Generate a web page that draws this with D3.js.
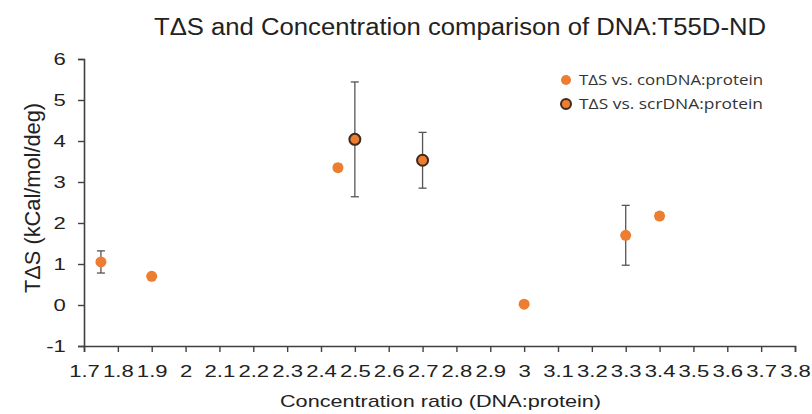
<!DOCTYPE html>
<html>
<head>
<meta charset="utf-8">
<script src="https://cdn.jsdelivr.net/npm/d3@7"></script>
<style>
  body { margin: 0; background: #fff; }
  svg { display: block; }
</style>
</head>
<body>
<div id="chart"></div>
<script>
// values
const conRatio = [1.75, 1.9, 2.45, 3.0, 3.3, 3.4];
const conTdS = [1.05, 0.7, 3.35, 0.02, 1.7, 2.17];
const conErr = [0.27, 0.05, 0.08, 0.0, 0.73, 0.08];

const scrRatio = [2.5, 2.7];
const scrTdS = [4.04, 3.53];
const scrErr = [1.4, 0.68];

const xTicks = [1.7, 1.8, 1.9, 2, 2.1, 2.2, 2.3, 2.4, 2.5, 2.6, 2.7, 2.8, 2.9, 3,
  3.1, 3.2, 3.3, 3.4, 3.5, 3.6, 3.7, 3.8];
const yTicks = [-1, 0, 1, 2, 3, 4, 5, 6];

const seriesNames = ['T\u0394S vs. conDNA:protein', 'T\u0394S vs. scrDNA:protein'];

const width = 812;
const height = 414;
const margin = { top: 59, right: 17, bottom: 68, left: 84 };

const svg = d3.select('#chart').append('svg')
  .attr('width', width)
  .attr('height', height)
  .style('font-family', 'Liberation Sans, Arial, sans-serif');

const x = d3.scaleLinear()
  .domain([1.7, 3.8])
  .range([margin.left, width - margin.right]);

const y = d3.scaleLinear()
  .domain([-1, 6])
  .range([height - margin.bottom, margin.top]);

const axisColor = '#404040';

// y axis
const yAxis = svg.append('g')
  .attr('transform', `translate(${margin.left},0)`)
  .call(d3.axisLeft(y).tickValues(yTicks).tickSize(6).tickPadding(8).tickFormat(String));

// x axis
const xAxis = svg.append('g')
  .attr('transform', `translate(0,${height - margin.bottom})`)
  .call(d3.axisBottom(x).tickValues(xTicks).tickSize(6).tickPadding(13).tickFormat(String));

// the reference text is stretched sideways, so widen the tick labels a bit
[yAxis, xAxis].forEach((g) => {
  g.select('.domain').attr('stroke', axisColor).attr('stroke-width', 1.6);
  g.selectAll('.tick line').attr('stroke', axisColor).attr('stroke-width', 1.4);
  g.selectAll('.tick text')
    .attr('fill', '#222')
    .attr('transform', 'scale(1.3,1)')
    .style('font-size', '17px')
    .style('font-family', 'Liberation Sans, Arial, sans-serif');
});

// error bars
function errorBars(xs, ys, es, cls) {
  const eb = svg.append('g').attr('class', cls);
  const idx = d3.range(xs.length).filter((i) => es[i] > 0.06);
  eb.selectAll('line.v')
    .data(idx)
    .enter()
    .append('line')
    .attr('class', 'v')
    .attr('x1', (i) => x(xs[i]))
    .attr('x2', (i) => x(xs[i]))
    .attr('y1', (i) => y(ys[i] - es[i]))
    .attr('y2', (i) => y(ys[i] + es[i]))
    .attr('stroke', '#555')
    .attr('stroke-width', 1.3);
  [-1, 1].forEach((s) => {
    eb.selectAll('line.c' + (s + 1))
      .data(idx)
      .enter()
      .append('line')
      .attr('class', 'c' + (s + 1))
      .attr('x1', (i) => x(xs[i]) - 4)
      .attr('x2', (i) => x(xs[i]) + 4)
      .attr('y1', (i) => y(ys[i] + s * es[i]))
      .attr('y2', (i) => y(ys[i] + s * es[i]))
      .attr('stroke', '#555')
      .attr('stroke-width', 1.3);
  });
}

errorBars(conRatio, conTdS, conErr, 'con-err');
errorBars(scrRatio, scrTdS, scrErr, 'scr-err');

const orange = '#ED7D31';

svg.append('g').selectAll('circle')
  .data(conRatio)
  .enter()
  .append('circle')
  .attr('cx', (d) => x(d))
  .attr('cy', (d, i) => y(conTdS[i]))
  .attr('r', 5.5)
  .style('fill', orange);

svg.append('g').selectAll('circle')
  .data(scrRatio)
  .enter()
  .append('circle')
  .attr('cx', (d) => x(d))
  .attr('cy', (d, i) => y(scrTdS[i]))
  .attr('r', 5.5)
  .style('fill', orange)
  .style('stroke', '#3b2a1e')
  .style('stroke-width', 2);

// title
svg.append('text')
  .attr('x', 154)
  .attr('y', 35)
  .attr('textLength', 612)
  .attr('lengthAdjust', 'spacingAndGlyphs')
  .style('font-size', '23px')
  .attr('fill', '#222')
  .text('T\u0394S and Concentration comparison of DNA:T55D-ND');

// axis titles
svg.append('text')
  .attr('transform', 'translate(40,198) scale(1.15,1) rotate(-90)')
  .attr('text-anchor', 'middle')
  .attr('textLength', 190)
  .attr('lengthAdjust', 'spacingAndGlyphs')
  .style('font-size', '19px')
  .attr('fill', '#222')
  .text('T\u0394S (kCal/mol/deg)');

svg.append('text')
  .attr('x', 280)
  .attr('y', 407)
  .attr('textLength', 321)
  .attr('lengthAdjust', 'spacingAndGlyphs')
  .style('font-size', '17px')
  .attr('fill', '#222')
  .text('Concentration ratio (DNA:protein)');

// legend
const legend = svg.append('g')
  .attr('transform', 'translate(566,80)');

legend.selectAll('circle')
  .data(seriesNames)
  .enter()
  .append('circle')
  .attr('cx', 0)
  .attr('cy', (d, i) => i * 24)
  .attr('r', 5)
  .style('fill', orange)
  .style('stroke', (d, i) => (i === 1 ? '#3b2a1e' : 'none'))
  .style('stroke-width', 2);

legend.selectAll('text')
  .data(seriesNames)
  .enter()
  .append('text')
  .attr('x', 13)
  .attr('y', (d, i) => i * 24 + 5)
  .attr('textLength', 184)
  .attr('lengthAdjust', 'spacingAndGlyphs')
  .style('font-family', 'Open Sans, sans-serif')
  .style('font-size', '14px')
  .attr('fill', '#333')
  .text((d) => d);
</script>
</body>
</html>
